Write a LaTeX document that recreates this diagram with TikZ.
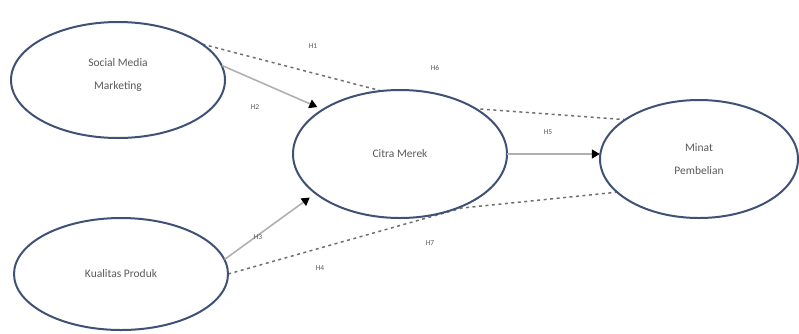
\documentclass[tikz,border=0pt]{standalone}
\usepackage{fontspec}
\setmainfont{Carlito}
\usetikzlibrary{arrows.meta,shapes.geometric}
\definecolor{rim}{HTML}{3F5275}
\definecolor{ink}{HTML}{5A5A5A}
\definecolor{solidline}{HTML}{B0B0B0}
\definecolor{dashline}{HTML}{707070}
\begin{document}
\begin{tikzpicture}[x=1pt,y=-1pt,
  construct/.style={draw=rim,line width=2pt,fill=white,ellipse,inner sep=0pt,
    text=ink,font=\fontsize{11.5}{23}\selectfont,align=center},
  path arrow/.style={draw=solidline,line width=1.6pt,
    -{Triangle[length=8pt,width=9pt,fill=black,color=black]}},
  indirect/.style={draw=dashline,line width=1.5pt,dash pattern=on 3pt off 3.5pt},
  hyp/.style={text=ink,font=\fontsize{7.5}{8}\selectfont,inner sep=1pt}]
\useasboundingbox (0,0) rectangle (799,333);

% bend points of the two indirect paths, hidden behind Citra Merek
\coordinate (topbend) at (439,106);
\coordinate (lowbend) at (462,208);

% constructs are placed first (for their anchors), redrawn on top below
\path (118,80) node[ellipse,minimum width=214pt,minimum height=116pt,inner sep=0pt] (smm) {};
\path (121,274) node[ellipse,minimum width=214pt,minimum height=112pt,inner sep=0pt] (kp) {};
\path (400,154) node[ellipse,minimum width=214pt,minimum height=128pt,inner sep=0pt] (cm) {};
\path (699,159) node[ellipse,minimum width=198pt,minimum height=118pt,inner sep=0pt] (mp) {};

% indirect (mediated) paths
\draw[indirect] (smm.23) -- (topbend) -- (mp.152);
\draw[indirect] (kp.0) -- (lowbend) -- (mp.202);

% constructs
\node[construct,minimum width=214pt,minimum height=116pt] at (smm) {};
\node[text=ink,font=\fontsize{11.5}{23}\selectfont,align=center] (smmtext) at ([yshift=5pt]smm.center) {Social Media\\Marketing};
\node[construct,minimum width=214pt,minimum height=112pt] at (kp) {Kualitas Produk};
\node[construct,minimum width=214pt,minimum height=128pt] at (cm) {Citra Merek};
\node[construct,minimum width=198pt,minimum height=118pt] at (mp) {Minat\\Pembelian};

% direct paths
\draw[path arrow,shorten >=6pt] (smm.8) -- (cm.150);
\draw[path arrow,shorten >=7pt] (kp.8) -- (cm.205);
\draw[path arrow] (cm.east) -- (mp.west |- cm.east);

% hypothesis labels
\node[hyp] (h1) at (313,46) {H1};
\node[hyp] (h6) at (435,68) {H6};
\node[hyp] (h2) at (255,107) {H2};
\node[hyp] (h3) at (258,237) {H3};
\node[hyp] (h5) at (548,132) {H5};
\node[hyp] (h7) at (430,243) {H7};
\node[hyp] (h4) at (320,268) {H4};
\end{tikzpicture}
\end{document}
